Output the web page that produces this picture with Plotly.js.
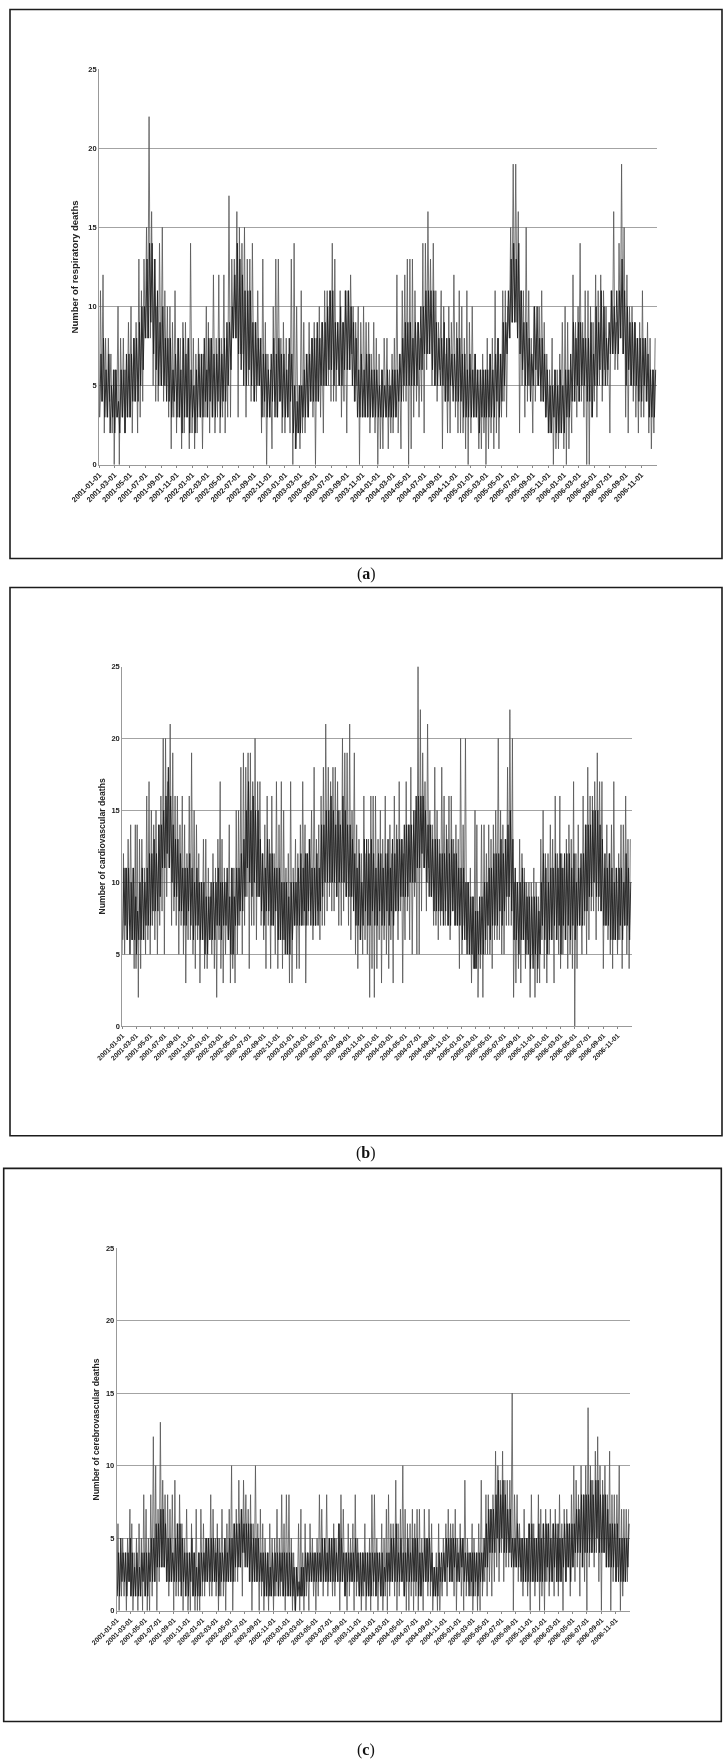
<!DOCTYPE html>
<html><head><meta charset="utf-8">
<script src="https://cdn.plot.ly/plotly-3.0.1.min.js"></script>
<style>html,body{margin:0;padding:0;background:#fff}#c{width:723px;height:1759px;filter:blur(0.35px)}</style>
</head><body><div id="c"></div>
<script>
// Values, six readings per month:
// the spike readings (days 1,6,11,16,21,26) and the dense core band (days 3,8,13,18,23,28)
const slotDays = ["01","06","11","16","21","26"];
const coreDays = ["03","08","13","18","23","28"];
const years = [2001,2002,2003,2004,2005,2006];
const monthNums = ["01","02","03","04","05","06","07","08","09","10","11","12"];
const tickMonths = ["01","03","05","07","09","11"];
const yTicks = [0,5,10,15,20,25];

const respiratory = [
3,11,4,12,2,8, 3,8,4,7,2,6, 0,6,3,10,0,8, 3,8,2,6,3,9, 3,10,2,8,4,9, 2,13,3,11,4,13,
8,15,8,22,8,16, 5,13,4,10,4,14, 5,15,4,11,5,10, 3,10,1,9,3,11, 2,8,3,8,1,9, 2,9,3,8,1,14,
2,8,1,7,2,8, 3,7,1,7,3,10, 3,9,2,8,3,12, 2,8,3,12,2,8, 3,12,2,8,3,17, 3,13,8,13,8,16,
3,15,7,14,7,15, 3,13,5,13,4,14, 4,9,4,11,5,8, 2,13,3,9,0,7, 3,6,1,10,4,13, 3,13,4,8,2,9,
2,8,3,7,2,13, 0,14,1,10,2,5, 1,11,2,9,2,7, 3,9,4,8,3,9, 0,8,4,10,3,9, 2,11,5,11,5,11,
4,14,4,13,4,9, 5,11,3,9,4,11, 2,11,6,12,7,10, 4,9,5,10,0,9, 3,10,3,9,3,9, 2,7,3,9,2,8,
0,7,1,6,1,8, 3,8,1,6,2,7, 2,8,3,12,2,7, 1,11,4,12,4,13, 0,13,1,13,3,11, 4,9,3,8,4,14,
2,14,6,16,7,13, 5,14,5,11,4,9, 6,11,1,10,4,7, 2,10,2,9,5,12, 3,9,2,11,2,10, 2,8,1,11,0,9,
2,10,3,7,3,6, 1,6,1,7,2,6, 0,8,1,7,2,8, 1,11,2,8,1,7, 3,11,4,11,3,10, 8,15,9,19,9,19,
9,16,2,11,5,11, 3,15,4,11,5,8, 2,10,4,8,5,10, 5,11,4,9,3,7, 2,6,2,8,0,6, 1,6,1,7,2,9,
1,10,0,9,1,6, 2,12,4,9,3,10, 4,14,4,9,3,11, 0,11,0,10,3,9, 4,12,3,11,5,12, 4,11,6,10,5,8,
2,11,7,16,6,9, 6,14,8,19,7,15, 3,12,2,10,5,10, 4,9,3,8,2,9, 3,11,3,8,4,9, 2,8,1,6,2,8];

const respiratoryCore = [
3,7,4,8,3,6, 3,7,2,5,3,6, 2,6,3,4,2,6, 3,6,2,7,3,7, 3,7,4,8,4,8, 4,9,5,10,6,10,
8,13,8,14,9,14, 7,13,6,11,5,9, 5,10,5,8,4,8, 4,8,3,6,4,7, 3,8,3,6,2,8, 3,7,3,8,2,6,
3,5,2,6,3,7, 3,7,3,8,4,6, 3,8,4,8,3,7, 3,7,4,8,3,7, 4,8,4,9,5,9, 6,10,8,12,8,14,
7,13,6,12,5,11, 5,11,6,11,5,9, 4,9,5,8,5,8, 3,7,4,7,3,6, 3,7,4,8,3,7, 3,8,4,7,3,7,
3,6,3,8,4,7, 2,5,1,4,2,5, 2,5,3,6,3,7, 3,7,4,8,4,8, 4,9,4,8,5,9, 5,9,5,10,6,11,
6,11,5,9,6,9, 5,10,5,9,6,11, 6,11,6,10,5,9, 4,8,3,6,3,7, 3,6,3,7,3,7, 3,6,3,6,3,6,
3,5,3,6,3,5, 3,6,3,5,3,6, 3,6,3,6,4,7, 4,8,5,9,5,9, 5,9,5,8,5,9, 5,9,6,10,6,10,
7,11,7,11,7,11, 6,11,5,9,5,8, 5,8,5,9,4,8, 4,8,5,7,4,7, 4,8,4,8,4,7, 3,7,3,6,3,7,
3,6,3,7,3,6, 2,6,3,6,3,6, 3,6,3,7,3,6, 3,7,4,8,3,7, 4,9,5,9,7,11, 8,13,9,14,9,13,
8,14,7,11,6,9, 5,9,5,8,4,7, 5,10,6,10,5,8, 4,8,4,7,3,6, 2,5,2,5,3,6, 2,5,2,6,2,5,
2,6,3,6,3,7, 4,9,4,8,5,9, 4,9,5,8,5,8, 4,8,4,9,3,7, 5,10,5,9,6,11, 5,10,5,8,6,9,
7,11,7,10,7,11, 7,11,8,13,7,11, 5,10,6,9,5,9, 5,9,5,8,4,8, 4,8,5,8,4,7, 3,6,3,6,3,6];

const cardiovascular = [
5,12,5,11,6,13, 7,14,6,11,4,14, 4,14,2,13,4,13, 6,11,5,16,6,17, 5,15,7,14,6,15, 5,14,7,16,8,20,
5,20,9,17,11,21, 7,19,8,16,7,16, 5,14,7,16,5,14, 3,12,6,16,6,19, 5,15,4,14,6,12, 3,10,6,13,4,13,
4,11,6,9,5,12, 4,11,2,13,6,17, 4,13,3,11,5,10, 6,14,3,11,4,11, 3,15,5,15,7,18, 5,19,7,18,9,19,
4,19,7,17,7,20, 6,17,9,17,7,12, 6,14,4,16,7,13, 4,16,7,12,5,17, 4,14,6,17,4,15, 6,11,5,12,3,17,
3,11,7,13,4,12, 4,14,7,17,7,14, 3,12,7,13,8,15, 6,18,7,13,8,14, 6,16,7,18,7,21, 8,18,9,17,8,18,
8,18,9,17,7,15, 7,20,8,19,9,19, 7,21,6,15,9,19, 5,14,4,13,6,12, 5,16,6,12,5,13, 2,16,4,16,2,16,
4,13,6,15,3,13, 6,16,5,12,4,14, 6,12,3,16,8,14, 6,17,8,13,3,12, 6,17,8,14,6,18, 5,14,9,15,5,25,
5,22,8,19,11,17, 8,21,11,15,9,14, 7,18,7,15,6,13, 7,18,8,16,7,14, 7,16,6,16,8,13, 7,14,7,13,4,20,
5,14,7,20,6,10, 5,11,3,9,4,15, 4,14,2,8,4,14, 2,14,5,12,5,14, 5,13,4,14,6,15, 6,20,6,15,5,14,
5,13,7,18,7,22, 7,20,2,10,3,10, 4,13,3,12,6,11, 4,10,6,10,2,10, 5,11,2,10,3,9, 3,13,6,15,4,12,
3,12,5,14,6,13, 3,16,6,12,5,16, 4,12,5,11,6,13, 4,14,5,13,4,17, 0,12,4,14,7,11, 5,16,7,14,5,18,
6,16,8,16,8,17, 6,19,8,17,8,17, 4,11,7,14,6,12, 5,14,4,17,6,11, 5,12,6,14,4,14, 7,16,5,13,4,13];

const cardiovascularCore = [
6,11,7,11,6,11, 5,10,6,11,6,9, 5,8,6,10,6,11, 6,10,7,11,7,12, 7,12,8,13,8,12, 8,14,9,14,11,15,
11,16,12,18,11,16, 10,14,9,13,9,13, 8,12,8,11,7,11, 7,11,8,12,7,11, 6,10,7,11,7,10, 6,10,6,10,5,9,
5,9,6,10,6,10, 6,10,7,11,7,10, 6,10,7,10,7,11, 6,9,5,11,5,9, 7,11,7,11,8,12, 8,13,9,15,11,17,
10,15,9,16,10,15, 9,15,9,13,8,12, 7,11,8,13,8,12, 7,12,7,11,8,11, 6,11,6,10,6,10, 5,10,5,9,5,10,
6,10,7,10,7,11, 7,12,7,11,8,12, 7,12,8,13,7,11, 7,11,7,12,7,11, 8,14,9,14,10,15, 10,15,10,16,10,15,
10,14,9,15,10,14, 10,16,10,15,9,14, 9,14,9,13,8,12, 7,11,7,12,6,10, 7,13,8,13,7,12, 7,13,8,12,7,11,
7,12,8,12,7,11, 7,12,8,13,7,11, 8,13,7,12,8,13, 8,13,9,13,9,14, 9,14,9,14,10,14, 10,15,10,16,11,16,
11,16,12,16,11,15, 10,14,9,14,9,13, 8,13,8,13,8,12, 8,12,7,12,8,13, 7,12,7,13,8,12, 7,12,7,11,7,11,
6,11,6,10,5,10, 5,9,5,9,4,8, 4,8,5,9,5,9, 5,10,6,10,7,11, 6,11,7,12,7,12, 7,12,8,13,7,12,
8,13,9,14,9,15, 8,13,6,11,6,10, 5,10,6,11,6,10, 5,9,5,9,4,9, 4,9,5,9,4,8, 5,10,7,12,6,11,
5,10,6,11,6,11, 7,12,6,11,7,12, 5,11,7,12,6,12, 7,12,6,11,7,12, 6,10,7,11,7,12, 7,12,8,14,8,14,
9,14,9,15,10,15, 9,15,9,14,8,13, 7,12,7,11,7,12, 6,11,6,10,6,11, 6,11,7,11,6,10, 7,12,7,11,6,10];

const cerebrovascular = [
1,6,0,4,1,5, 1,4,0,5,2,7, 1,6,0,4,1,5, 0,6,1,5,0,8, 1,7,0,5,0,8, 1,12,2,10,0,7,
2,13,3,9,3,8, 2,8,1,7,2,8, 0,9,1,6,1,8, 2,6,0,5,1,7, 0,4,0,6,1,4, 0,7,0,4,0,7,
1,6,1,5,2,5, 1,8,1,7,2,5, 1,6,0,5,1,7, 1,5,0,6,2,7, 2,10,0,6,2,7, 2,9,3,7,1,9,
4,8,3,7,2,8, 0,6,2,10,2,6, 0,7,1,6,0,5, 1,4,0,6,1,5, 0,5,1,7,1,5, 1,8,1,6,0,8,
1,8,1,5,0,4, 0,3,1,6,0,7, 1,4,0,6,1,4, 0,6,2,5,1,4, 0,5,1,8,2,7, 1,5,2,8,1,5,
2,5,1,6,1,5, 2,6,0,8,2,7, 1,4,0,6,1,5, 2,6,0,8,1,5, 1,4,0,4,1,6, 0,4,1,5,0,8,
1,8,1,5,0,4, 1,6,0,5,1,7, 0,8,1,6,2,6, 1,9,0,6,1,7, 2,10,1,7,0,6, 0,6,1,7,0,6,
1,7,0,7,1,5, 0,7,2,5,1,7, 1,6,0,3,1,4, 0,6,0,3,1,5, 2,6,1,7,2,6, 2,6,1,7,0,5,
2,6,1,5,0,9, 1,5,2,4,1,6, 0,5,1,4,0,6, 0,9,1,4,2,8, 1,8,2,7,1,8, 2,11,3,10,2,9,
4,11,2,9,3,9, 3,9,4,15,0,8, 3,8,2,6,3,5, 1,7,2,5,1,6, 0,8,2,6,1,5, 2,8,0,7,1,6,
0,7,2,6,1,7, 2,6,1,7,2,5, 1,8,2,6,0,7, 2,7,3,6,1,8, 3,10,2,9,3,8, 1,10,3,8,2,10,
0,14,3,10,4,9, 3,11,4,12,2,10, 0,9,4,10,3,8, 3,11,0,8,2,8, 2,8,3,10,0,7, 1,7,2,7,2,7];

const cerebrovascularCore = [
1,4,1,5,2,4, 2,4,1,4,2,5, 1,4,1,3,1,4, 1,3,1,4,2,4, 1,4,1,4,2,5, 2,5,2,6,3,6,
3,7,3,7,3,6, 2,5,2,5,2,4, 2,5,2,6,2,6, 1,5,2,4,1,4, 1,4,2,5,1,4, 1,3,1,4,1,4,
2,4,2,5,2,5, 2,5,2,5,2,4, 2,5,1,4,2,4, 2,5,2,4,2,5, 2,5,2,6,3,6, 3,6,3,7,4,6,
3,6,3,6,2,6, 2,5,2,5,2,5, 2,4,2,4,1,4, 1,4,1,3,1,4, 1,4,2,4,1,4, 2,4,1,4,1,4,
1,4,1,4,1,3, 0,3,1,2,1,3, 1,3,1,4,2,4, 2,4,2,4,2,4, 2,4,2,4,2,5, 2,5,2,4,2,5,
2,5,2,5,2,4, 2,6,2,5,2,4, 1,4,2,4,2,4, 2,4,2,5,2,4, 1,4,1,4,2,4, 1,4,1,4,1,4,
2,4,1,4,2,4, 1,4,1,3,2,4, 2,4,2,5,2,5, 2,6,2,4,2,5, 2,4,1,4,2,5, 2,4,2,5,2,5,
2,5,1,4,1,4, 2,5,2,5,2,5, 2,4,1,3,1,3, 1,4,2,4,2,4, 2,5,3,5,2,5, 2,5,3,5,2,4,
2,5,3,5,2,4, 2,4,1,4,2,4, 1,4,2,4,1,4, 2,4,2,5,3,6, 3,7,4,7,4,7, 4,8,5,9,4,8,
5,9,4,8,4,7, 4,7,3,5,3,5, 3,6,3,5,2,5, 2,5,2,5,2,6, 2,6,2,5,2,5, 2,6,2,5,2,6,
2,6,3,6,2,5, 2,6,3,6,2,6, 2,5,2,5,3,6, 2,6,3,6,2,6, 3,6,4,7,4,7, 4,8,3,8,4,8,
4,8,4,9,4,8, 4,9,5,9,4,8, 4,8,4,8,3,7, 3,6,3,6,3,6, 2,6,2,5,2,5, 2,5,2,5,3,6];

const dates = [], coreDates = [];
years.forEach(y => monthNums.forEach(m => {
  slotDays.forEach(d => dates.push(`${y}-${m}-${d}`));
  coreDays.forEach(d => coreDates.push(`${y}-${m}-${d}`));
}));
const tickDates = [];
years.forEach(y => tickMonths.forEach(m => tickDates.push(`${y}-${m}-01`)));

const W = 723, H = 1759;
const panels = [
 {vals:respiratory, core:respiratoryCore, title:"Number of respiratory deaths", box:[99.2,656.7,69.2,464.7], frame:[10,722,9.5,558.5], cap:"a", capY:574, tf:7.5, st:8, ts:9.5},
 {vals:cardiovascular, core:cardiovascularCore, title:"Number of cardiovascular deaths", box:[122.3,631.7,666.5,1026.2], frame:[10,722,587.5,1135.7], cap:"b", capY:1153, tf:6.8, st:4, ts:8.6},
 {vals:cerebrovascular, core:cerebrovascularCore, title:"Number of cerebrovascular deaths", box:[116.8,630,1248.2,1610.7], frame:[3.7,721.3,1168.4,1721.5], cap:"c", capY:1750, tf:6.8, st:4, ts:8.6}
];
const font = "Liberation Sans";
const traces = [], layout = {
  width:W, height:H, margin:{l:0,r:0,t:0,b:0}, showlegend:false,
  paper_bgcolor:"#fff", plot_bgcolor:"#fff", shapes:[], annotations:[]
};
panels.forEach((p,i) => {
  const n = i ? String(i+1) : "";
  traces.push({type:"scatter", mode:"lines", x:dates, y:p.vals, xaxis:"x"+n, yaxis:"y"+n,
    line:{color:"#555", width:0.8}, hoverinfo:"skip"});
  traces.push({type:"scatter", mode:"lines", x:coreDates, y:p.core, xaxis:"x"+n, yaxis:"y"+n,
    line:{color:"#1e1e1e", width:0.9}, hoverinfo:"skip"});
  layout["xaxis"+n] = {
    type:"date", domain:[p.box[0]/W,p.box[1]/W], range:["2001-01-01","2007-01-01"], anchor:"y"+n,
    tickmode:"array", tickvals:tickDates, ticktext:tickDates, tickangle:-45,
    ticks:"outside", ticklen:2, tickcolor:"#888", tickwidth:1,
    tickfont:{family:font,size:p.tf,color:"#222",weight:700},
    showgrid:false, showline:true, linecolor:"#999", linewidth:1, zeroline:false
  };
  layout["yaxis"+n] = {
    domain:[1-p.box[3]/H,1-p.box[2]/H], range:[0,25], anchor:"x"+n,
    tickmode:"array", tickvals:yTicks, ticks:"",
    tickfont:{family:font,size:7.5,color:"#222",weight:700},
    showgrid:true, gridcolor:"#a3a3a3", gridwidth:1, showline:true, linecolor:"#999", linewidth:1, zeroline:false,
    title:{text:p.title, standoff:p.st, font:{family:font,size:p.ts,color:"#222",weight:700}}
  };
  layout.shapes.push({type:"rect", xref:"paper", yref:"paper",
    x0:p.frame[0]/W, x1:p.frame[1]/W, y0:1-p.frame[3]/H, y1:1-p.frame[2]/H,
    line:{color:"#1c1c1c",width:1.6}});
  layout.annotations.push({xref:"paper",yref:"paper",x:366/W,y:1-p.capY/H,xanchor:"center",yanchor:"middle",
    showarrow:false,text:"(<b>"+p.cap+"</b>)",font:{family:"Liberation Serif",size:16,color:"#111"}});
});
Plotly.newPlot("c", traces, layout, {staticPlot:true, displayModeBar:false});
</script></body></html>
